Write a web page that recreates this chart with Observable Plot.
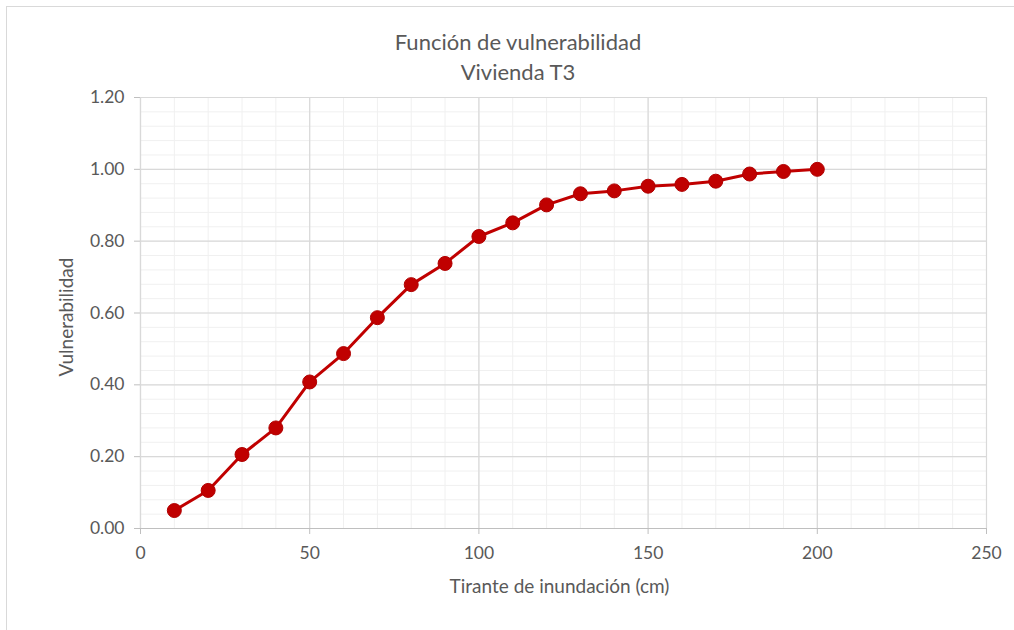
<!DOCTYPE html>
<html>
<head>
<meta charset="utf-8">
<script src="https://cdn.jsdelivr.net/npm/d3@7"></script>
<script src="https://cdn.jsdelivr.net/npm/@observablehq/plot@0.6"></script>
<style>
  html, body { margin: 0; padding: 0; background: #fff; }
  #wrap { position: relative; width: 1014px; height: 630px; overflow: hidden; font-family: Lato, "Open Sans", sans-serif; color: #595959; }
  #frame { position: absolute; left: 6px; top: 6px; width: 1020px; height: 640px; border: 1.5px solid #d9d9d9; box-sizing: border-box; }
  .title { position: absolute; left: 0; width: 1036px; text-align: center; font-size: 22px; color: #595959; }
  #chart { position: absolute; left: 0; top: 0; }
</style>
</head>
<body>
<div id="wrap">
  <div id="frame"></div>
  <div id="chart"></div>
  <div class="title" style="top:28px">Función de vulnerabilidad</div>
  <div class="title" style="top:58px">Vivienda T3</div>
</div>
<script>
const tirante = [10, 20, 30, 40, 50, 60, 70, 80, 90, 100, 110, 120, 130, 140, 150, 160, 170, 180, 190, 200];
const vulnerabilidad = [0.050, 0.106, 0.206, 0.280, 0.408, 0.487, 0.587, 0.679, 0.738, 0.813, 0.851, 0.901, 0.932, 0.940, 0.953, 0.958, 0.967, 0.987, 0.994, 1.000];
const xMajorTicks = [0, 50, 100, 150, 200, 250];
const xMinorTicks = d3.range(0, 251, 10);
const yMajorTicks = [0, 0.2, 0.4, 0.6, 0.8, 1.0, 1.2];
const yMinorTicks = d3.range(0, 1.2001, 0.04);
const titulo = "Función de vulnerabilidad";
const subtitulo = "Vivienda T3";
const xLabel = "Tirante de inundación (cm)";
const yLabel = "Vulnerabilidad";

const data = tirante.map((x, i) => ({x, y: vulnerabilidad[i]}));

const chart = Plot.plot({
  width: 1014,
  height: 630,
  marginLeft: 140,
  marginRight: 28,
  marginTop: 97,
  marginBottom: 102,
  style: {fontFamily: "Lato, 'Open Sans', sans-serif", fontSize: "17px", color: "#595959", background: "transparent"},
  x: {domain: [0, 250], label: null},
  y: {domain: [0, 1.2], label: null},
  marks: [
    Plot.gridX(xMinorTicks, {stroke: "#f0f0f0", strokeOpacity: 1, strokeWidth: 1}),
    Plot.gridY(yMinorTicks, {stroke: "#f0f0f0", strokeOpacity: 1, strokeWidth: 1}),
    Plot.gridX(xMajorTicks, {stroke: "#d9d9d9", strokeOpacity: 1, strokeWidth: 1.2}),
    Plot.gridY(yMajorTicks, {stroke: "#d9d9d9", strokeOpacity: 1, strokeWidth: 1.2}),
    Plot.axisX(xMajorTicks, {tickSize: 6, tickPadding: 12, stroke: "#bfbfbf", fill: "#595959", fontSize: 17.5}),
    Plot.axisY(yMajorTicks, {tickSize: 6, tickPadding: 10, stroke: "#bfbfbf", fill: "#595959", fontSize: 17.5, tickFormat: d => d.toFixed(2)}),
    Plot.ruleY([0], {stroke: "#bfbfbf", strokeWidth: 1.2}),
    Plot.ruleX([0], {stroke: "#d9d9d9", strokeWidth: 1.2}),
    Plot.line(data, {x: "x", y: "y", stroke: "#c00000", strokeWidth: 3}),
    Plot.dot(data, {x: "x", y: "y", r: 7, fill: "#c00000", stroke: "#b00000", strokeWidth: 1}),
    Plot.text([xLabel], {frameAnchor: "bottom", dx: -4, dy: 64, fontSize: 19, fill: "#595959"}),
    Plot.text([yLabel], {frameAnchor: "left", dx: -74, dy: 4, rotate: -90, textAnchor: "middle", fontSize: 19, fill: "#595959"})
  ]
});
document.getElementById("chart").appendChild(chart);
</script>
</body>
</html>
